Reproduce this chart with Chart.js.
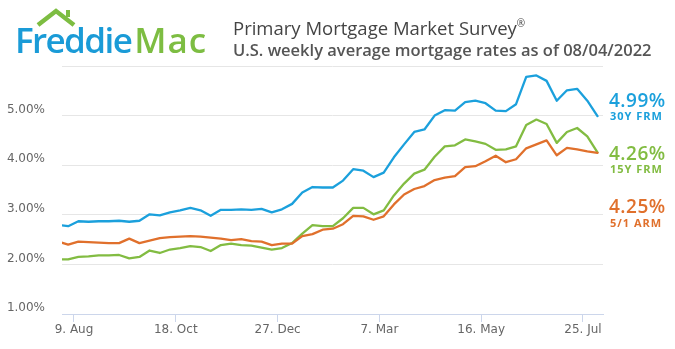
<!DOCTYPE html>
<html>
<head>
<meta charset="utf-8">
<script src="https://cdn.jsdelivr.net/npm/chart.js@4/dist/chart.umd.min.js"></script>
<style>
  html, body { margin: 0; padding: 0; background: #fff; }
  #wrap { position: relative; width: 675px; height: 349px; overflow: hidden; font-family: "Open Sans", sans-serif; }
  #chart { position: absolute; left: 0; top: 0; }
  .logo { position: absolute; left: 15px; top: 22px; font-size: 35px; font-weight: 600; line-height: 1; white-space: nowrap; }
  .logo .f { color: #1a9bd7; letter-spacing: -1.6px; }
  .logo .m { color: #7dbd42; margin-left: 3px; letter-spacing: 1px; }
  .roof { position: absolute; left: 0; top: 0; }
  .title { position: absolute; left: 233px; top: 19px; font-size: 18.5px; line-height: 1; color: #444; white-space: nowrap; }
  .title sup { font-size: 10px; vertical-align: 8px; line-height: 0; }
  .subtitle { position: absolute; left: 233px; top: 42px; font-size: 16.5px; font-weight: 600; line-height: 1; color: #555; white-space: nowrap; }
</style>
</head>
<body>
<div id="wrap">
  <canvas id="chart" width="675" height="349"></canvas>
  <svg class="roof" width="100" height="40">
    <polyline points="38,25 56,11 74,25" fill="none" stroke="#7dbd42" stroke-width="4.5" stroke-linejoin="miter"/>
    <rect x="66" y="10" width="4" height="7" fill="#7dbd42"/>
  </svg>
  <div class="logo"><span class="f">Freddie</span><span class="m">Mac</span></div>
  <div class="title">Primary Mortgage Market Survey<sup>®</sup></div>
  <div class="subtitle">U.S. weekly average mortgage rates as of 08/04/2022</div>
</div>
<script>
// Weekly survey dates (Thursdays)
const dates = [
  "2021-07-29","2021-08-05","2021-08-12","2021-08-19","2021-08-26",
  "2021-09-02","2021-09-09","2021-09-16","2021-09-23","2021-09-30",
  "2021-10-07","2021-10-14","2021-10-21","2021-10-28",
  "2021-11-04","2021-11-11","2021-11-18","2021-11-25",
  "2021-12-02","2021-12-09","2021-12-16","2021-12-23","2021-12-30",
  "2022-01-06","2022-01-13","2022-01-20","2022-01-27",
  "2022-02-03","2022-02-10","2022-02-17","2022-02-24",
  "2022-03-03","2022-03-10","2022-03-17","2022-03-24","2022-03-31",
  "2022-04-07","2022-04-14","2022-04-21","2022-04-28",
  "2022-05-05","2022-05-12","2022-05-19","2022-05-26",
  "2022-06-02","2022-06-09","2022-06-16","2022-06-23","2022-06-30",
  "2022-07-07","2022-07-14","2022-07-21","2022-07-28",
  "2022-08-04"
];

// 30-year fixed rate mortgage (%)
const frm30 = [
  2.80, 2.77, 2.87, 2.86, 2.87,
  2.87, 2.88, 2.86, 2.88, 3.01,
  2.99, 3.05, 3.09, 3.14,
  3.09, 2.98, 3.10, 3.10,
  3.11, 3.10, 3.12, 3.05, 3.11,
  3.22, 3.45, 3.56, 3.55,
  3.55, 3.69, 3.92, 3.89,
  3.76, 3.85, 4.16, 4.42, 4.67,
  4.72, 5.00, 5.11, 5.10,
  5.27, 5.30, 5.25, 5.10,
  5.09, 5.23, 5.78, 5.81, 5.70,
  5.30, 5.51, 5.54, 5.30,
  4.99
];

// 15-year fixed rate mortgage (%)
const frm15 = [
  2.10, 2.10, 2.15, 2.16, 2.18,
  2.18, 2.19, 2.12, 2.15, 2.28,
  2.23, 2.30, 2.33, 2.37,
  2.35, 2.27, 2.39, 2.42,
  2.39, 2.38, 2.34, 2.30, 2.33,
  2.43, 2.62, 2.79, 2.77,
  2.77, 2.93, 3.14, 3.14,
  3.01, 3.09, 3.39, 3.63, 3.83,
  3.91, 4.17, 4.38, 4.40,
  4.52, 4.48, 4.43, 4.31,
  4.32, 4.38, 4.81, 4.92, 4.83,
  4.45, 4.67, 4.75, 4.58,
  4.26
];

// 5/1 adjustable rate mortgage (%)
const arm51 = [
  2.46, 2.40, 2.46, 2.45, 2.44,
  2.43, 2.43, 2.52, 2.43, 2.48,
  2.53, 2.55, 2.56, 2.57,
  2.56, 2.54, 2.52, 2.49,
  2.51, 2.47, 2.46, 2.39, 2.42,
  2.42, 2.57, 2.61, 2.70,
  2.72, 2.81, 2.98, 2.97,
  2.90, 2.97, 3.21, 3.41, 3.52,
  3.58, 3.70, 3.75, 3.78,
  3.96, 3.98, 4.08, 4.19,
  4.06, 4.12, 4.34, 4.42, 4.50,
  4.20, 4.35, 4.32, 4.28,
  4.25
];

const seriesNames = ["30Y FRM", "15Y FRM", "5/1 ARM"];
const seriesColors = ["#1ba0dc", "#82bc42", "#e0702c"];

// x-axis tick dates and their labels
const tickDates = ["2021-08-09", "2021-10-18", "2021-12-27", "2022-03-07", "2022-05-16", "2022-07-25"];
const tickLabels = ["9. Aug", "18. Oct", "27. Dec", "7. Mar", "16. May", "25. Jul"];

// y-axis tick values
const yTicks = [1, 2, 3, 4, 5, 6];

// Day offsets relative to the first tick date
const DAY = 86400000;
function dayOf(s) {
  const [y, m, d] = s.split("-").map(Number);
  return (Date.UTC(y, m - 1, d) - Date.UTC(2021, 7, 9)) / DAY;
}
const xDays = dates.map(dayOf);
const tickDays = tickDates.map(dayOf);

function toPoints(vals) {
  return vals.map((v, i) => ({ x: xDays[i], y: v }));
}

const allSeries = [frm30, frm15, arm51];

// Latest-value labels to the right of the plot
const endLabels = {
  id: "endLabels",
  afterDraw(chart) {
    const ctx = chart.ctx;
    const valueBase = [107, 160, 213];
    const nameBase = [120, 173, 227];
    ctx.save();
    ctx.textAlign = "left";
    ctx.textBaseline = "alphabetic";
    allSeries.forEach((vals, i) => {
      ctx.fillStyle = seriesColors[i];
      ctx.letterSpacing = "0.5px";
      ctx.font = '600 19px "Open Sans"';
      ctx.fillText(vals[vals.length - 1].toFixed(2) + "%", 609, valueBase[i]);
      ctx.letterSpacing = "1px";
      ctx.font = 'bold 11px "Open Sans"';
      ctx.fillText(seriesNames[i], 610, nameBase[i]);
    });
    ctx.restore();
  }
};

Chart.defaults.font.family = '"DejaVu Sans", sans-serif';

new Chart(document.getElementById("chart"), {
  type: "line",
  data: {
    datasets: allSeries.map((vals, i) => ({
      label: seriesNames[i],
      data: toPoints(vals),
      borderColor: seriesColors[i],
      backgroundColor: seriesColors[i],
      borderWidth: 2.3,
      pointRadius: 0,
      tension: 0,
      borderJoinStyle: "round",
      borderCapStyle: "round",
      clip: 0
    })).reverse()
  },
  options: {
    responsive: false,
    animation: false,
    events: [],
    layout: { padding: { top: 66, right: 72, left: 0, bottom: 0 } },
    plugins: { legend: { display: false }, tooltip: { enabled: false }, title: { display: false } },
    scales: {
      x: {
        type: "linear",
        min: -8.25,
        max: 363.8,
        afterBuildTicks(scale) { scale.ticks = tickDays.map(v => ({ value: v })); },
        afterFit(scale) { scale.height = 35; },
        ticks: {
          autoSkip: false,
          maxRotation: 0,
          padding: 1,
          color: "#666",
          font: { size: 12 },
          callback(value, index) { return tickLabels[index]; }
        },
        grid: { drawOnChartArea: false, drawTicks: true, tickLength: 8, color: "#ccd6eb" },
        border: { display: true, color: "#ccd6eb" }
      },
      y: {
        min: 1,
        max: 6,
        afterBuildTicks(scale) { scale.ticks = yTicks.map(v => ({ value: v })); },
        afterFit(scale) { scale.width = 62; },
        ticks: {
          padding: 17,
          labelOffset: -6,
          color: "#666",
          font: { size: 12 },
          callback(value) { return value === 6 ? "" : value.toFixed(2) + "%"; }
        },
        grid: { color: "#e6e6e6", drawTicks: false },
        border: { display: false }
      }
    }
  },
  plugins: [endLabels]
});
</script>
</body>
</html>
